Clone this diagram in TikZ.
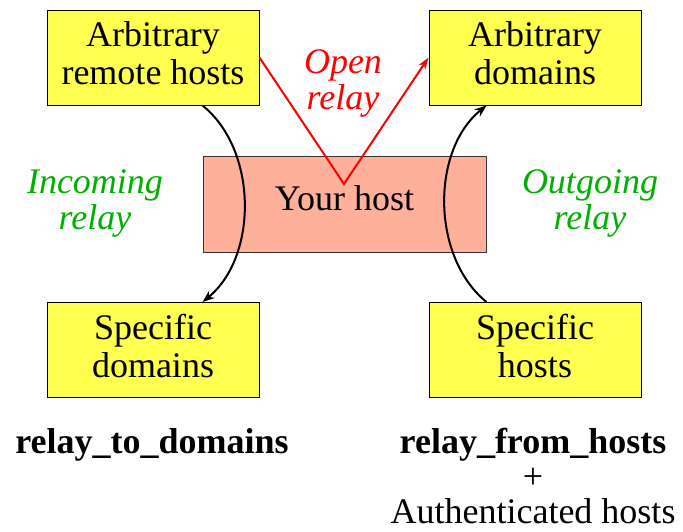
\documentclass[tikz,border=0pt]{standalone}
\usepackage{fontspec}
\setmainfont{Liberation Serif}[ItalicFont={Liberation Serif Italic},BoldFont={Liberation Serif Bold},BoldItalicFont={Liberation Serif Bold Italic}]
\usetikzlibrary{arrows.meta,calc}
\definecolor{boxyellow}{HTML}{FFFF50}
\definecolor{hostsalmon}{HTML}{FFB09A}
\definecolor{relaygreen}{HTML}{00B000}
\definecolor{relayred}{HTML}{FF0000}
\begin{document}
\begin{tikzpicture}[x=1pt,y=-1pt,
  every node/.style={font=\fontsize{36}{38}\selectfont},
  ybox/.style={draw=black,line width=1pt,fill=boxyellow,minimum width=212pt,minimum height=95pt,inner sep=0pt,align=center,text depth=8pt},
  hbox/.style={draw=black!80,line width=1pt,fill=hostsalmon,minimum width=283pt,minimum height=96pt,inner sep=0pt,align=center,text depth=12pt},
  glabel/.style={text=relaygreen,font=\fontsize{36}{36}\selectfont\itshape,align=center},
  rlabel/.style={text=relayred,font=\fontsize{36}{36}\selectfont\itshape,align=center},
  blabel/.style={font=\fontsize{36}{35}\selectfont,align=center,inner sep=0pt},
  curvearrow/.style={line width=2pt,-{Stealth[length=12pt,width=9pt]}},
  openarrow/.style={draw=relayred,line width=2pt,-{Stealth[length=12pt,width=8pt]}}
]
\useasboundingbox (0,0) rectangle (683,531);
\node[hbox] (yh) at (344.5,204) {Your host};
\node[ybox] (tl) at (153,57.5) {Arbitrary\\remote hosts};
\node[ybox] (tr) at (535,57.5) {Arbitrary\\domains};
\node[ybox] (bl) at (153,350) {Specific\\domains};
\node[ybox] (br) at (535,350) {Specific\\hosts};
\coordinate (v) at (344,184);
\draw[openarrow] (tl.east) -- (v) -- (tr.west);
\node[rlabel] (open) at (343,83) {Open\\relay};
\node[glabel] (inc) at (95,203) {Incoming\\relay};
\node[glabel] (out) at (590,203) {Outgoing\\relay};
\draw[curvearrow] (tl.south -| yh.west) .. controls (258,150) and (258,257) .. (bl.north -| yh.west);
\draw[curvearrow] (br.north -| yh.east) .. controls (431,257) and (431,150) .. (tr.south -| yh.east);
\node[blabel] (rtd) at (152,445) {\bfseries relay\_to\_domains};
\node[blabel,anchor=north] (rfh) at (533,428) {\bfseries relay\_from\_hosts\\+\\Authenticated hosts};
\end{tikzpicture}
\end{document}
